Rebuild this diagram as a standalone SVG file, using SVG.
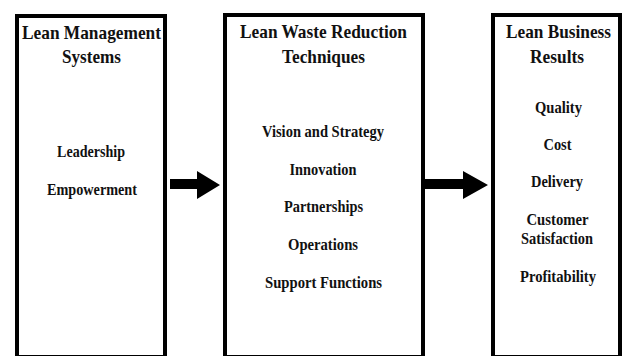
<svg xmlns="http://www.w3.org/2000/svg" width="622" height="356" viewBox="0 0 622 356">
<style>
.box{fill:#fff;stroke:#000;stroke-width:4}
.t{font-family:"Liberation Serif","Times New Roman",serif;font-weight:bold;fill:#111;text-anchor:middle}
.h{font-size:19px}
.b{font-size:16px}
</style>
<rect width="622" height="356" fill="#fff"/>
<g id="lean-management-systems">
<rect class="box" x="17" y="16" width="148" height="341"/>
<text class="t h" x="91.5" y="39" textLength="139" lengthAdjust="spacingAndGlyphs">Lean Management</text>
<text class="t h" x="91.5" y="63" textLength="59" lengthAdjust="spacingAndGlyphs">Systems</text>
<text class="t b" x="91" y="157" textLength="68" lengthAdjust="spacingAndGlyphs">Leadership</text>
<text class="t b" x="92" y="195" textLength="90" lengthAdjust="spacingAndGlyphs">Empowerment</text>
</g>
<g id="lean-waste-reduction-techniques">
<rect class="box" x="225" y="15" width="198" height="342"/>
<text class="t h" x="323.5" y="38" textLength="167" lengthAdjust="spacingAndGlyphs">Lean Waste Reduction</text>
<text class="t h" x="323.5" y="63" textLength="83" lengthAdjust="spacingAndGlyphs">Techniques</text>
<text class="t b" x="323" y="137" textLength="122" lengthAdjust="spacingAndGlyphs">Vision and Strategy</text>
<text class="t b" x="323" y="175" textLength="67" lengthAdjust="spacingAndGlyphs">Innovation</text>
<text class="t b" x="323.5" y="212" textLength="79" lengthAdjust="spacingAndGlyphs">Partnerships</text>
<text class="t b" x="323" y="250" textLength="70" lengthAdjust="spacingAndGlyphs">Operations</text>
<text class="t b" x="323.5" y="288" textLength="117" lengthAdjust="spacingAndGlyphs">Support Functions</text>
</g>
<g id="lean-business-results">
<rect class="box" x="493" y="15" width="127" height="342"/>
<text class="t h" x="558.5" y="38" textLength="105" lengthAdjust="spacingAndGlyphs">Lean Business</text>
<text class="t h" x="557" y="63" textLength="54" lengthAdjust="spacingAndGlyphs">Results</text>
<text class="t b" x="558.5" y="113" textLength="47" lengthAdjust="spacingAndGlyphs">Quality</text>
<text class="t b" x="557.5" y="150" textLength="28" lengthAdjust="spacingAndGlyphs">Cost</text>
<text class="t b" x="557" y="187" textLength="52" lengthAdjust="spacingAndGlyphs">Delivery</text>
<text class="t b" x="557.5" y="225" textLength="62" lengthAdjust="spacingAndGlyphs">Customer</text>
<text class="t b" x="557" y="244" textLength="72" lengthAdjust="spacingAndGlyphs">Satisfaction</text>
<text class="t b" x="558" y="282" textLength="76" lengthAdjust="spacingAndGlyphs">Profitability</text>
</g>
<g id="connectors" fill="#000">
<polygon points="170,179 197,179 197,171 220,185 197,199 197,189 170,189"/>
<polygon points="423,179 463,179 463,171 488,185 463,199 463,189 423,189"/>
</g>
</svg>
